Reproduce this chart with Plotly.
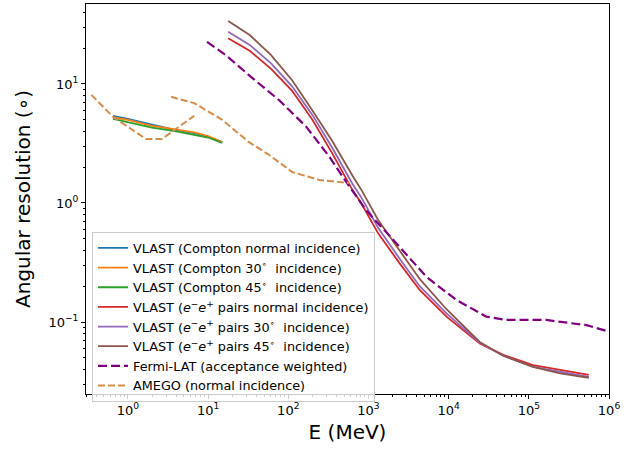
import plotly.graph_objects as go

# --- VLAST Compton-regime angular resolution (MeV, degrees)
compton_E = [0.65, 1.0, 2.0, 4.0, 7.0, 10.0, 15.0]
compton_normal = [5.4, 5.1, 4.55, 4.1, 3.85, 3.6, 3.25]
compton_30 = [5.25, 5.0, 4.45, 4.15, 3.9, 3.65, 3.25]
compton_45 = [5.1, 4.8, 4.3, 4.0, 3.75, 3.55, 3.2]

# --- VLAST pair-production regime
pair_E = [17.8, 33, 61, 111, 200, 355, 630, 810, 1320, 2450, 4350,
          9400, 24400, 48000, 113000, 245000, 560000]
pair_normal = [24.2, 19.0, 13.4, 8.8, 5.0, 2.6, 1.29, 1.0, 0.556, 0.311, 0.186,
               0.111, 0.066, 0.053, 0.0435, 0.0395, 0.0359]
pair_30 = [27.5, 21.3, 14.9, 9.6, 5.5, 2.9, 1.45, 1.12, 0.62, 0.34, 0.2,
           0.118, 0.067, 0.052, 0.042, 0.038, 0.0345]
pair_45 = [33.8, 25.8, 17.5, 10.8, 6.0, 3.3, 1.7, 1.3, 0.72, 0.40, 0.23,
           0.128, 0.068, 0.052, 0.042, 0.037, 0.034]

# --- Fermi-LAT (acceptance weighted)
fermi_E = [9.7, 16.6, 35.7, 77, 166, 325, 525, 933, 2220, 5270, 12500,
           29500, 52000, 165000, 525000, 1000000]
fermi_res = [22.6, 17.5, 11.2, 7.3, 4.4, 2.45, 1.51, 0.87, 0.46, 0.24, 0.153,
             0.111, 0.104, 0.104, 0.094, 0.083]

# --- AMEGO (normal incidence); None separates the Compton and pair branches
amego_E = [0.35, 0.65, 1.68, 2.66, 6.7, None,
           3.45, 6.7, 15, 32, 58, 112, 245, 580]
amego_res = [8.1, 5.3, 3.45, 3.45, 5.4, None,
             7.8, 6.9, 5.0, 3.26, 2.53, 1.82, 1.56, 1.47]

x_tickvals = [1, 10, 100, 1000, 10000, 100000, 1000000]
x_ticktext = ["10<sup>0</sup>", "10<sup>1</sup>", "10<sup>2</sup>", "10<sup>3</sup>",
              "10<sup>4</sup>", "10<sup>5</sup>", "10<sup>6</sup>"]
y_tickvals = [0.1, 1, 10]
y_ticktext = ["10<sup>\u22121</sup>", "10<sup>0</sup>", "10<sup>1</sup>"]

deg = "<sup>\u2218</sup>"
ee = "<i>e</i><sup>\u2212</sup><i>e</i><sup>+</sup>"

fig = go.Figure()

solid = [
    (compton_E, compton_normal, "VLAST (Compton normal incidence)", "#1f77b4"),
    (compton_E, compton_30, f"VLAST (Compton 30{deg}  incidence)", "#ff7f0e"),
    (compton_E, compton_45, f"VLAST (Compton 45{deg}  incidence)", "#2ca02c"),
    (pair_E, pair_normal, f"VLAST ({ee} pairs normal incidence)", "#d62728"),
    (pair_E, pair_30, f"VLAST ({ee} pairs 30{deg}  incidence)", "#9467bd"),
    (pair_E, pair_45, f"VLAST ({ee} pairs 45{deg}  incidence)", "#8c564b"),
]
for xs, ys, name, color in solid:
    fig.add_trace(go.Scatter(x=xs, y=ys, name=name, mode="lines",
                             line=dict(color=color, width=1.8)))

fig.add_trace(go.Scatter(x=fermi_E, y=fermi_res, name="Fermi-LAT (acceptance weighted)",
                         mode="lines", line=dict(color="#800080", width=2.2, dash="9px,4px")))
fig.add_trace(go.Scatter(x=amego_E, y=amego_res, name="AMEGO (normal incidence)",
                         mode="lines", connectgaps=False,
                         line=dict(color="#d98c48", width=2, dash="7px,3px")))

axis_common = dict(
    type="log", showline=True, linecolor="black", linewidth=1, mirror=True,
    ticks="outside", ticklen=4, tickcolor="black", showgrid=False, zeroline=False,
    tickfont=dict(family="DejaVu Sans", size=13, color="black"),
    minor=dict(ticks="outside", ticklen=2.3, tickcolor="black", dtick="D1", showgrid=False),
)

fig.update_layout(
    width=641, height=449,
    margin=dict(l=86, r=32, t=4, b=55),
    paper_bgcolor="white", plot_bgcolor="white",
    font=dict(family="DejaVu Sans", color="black"),
    xaxis=dict(axis_common, range=[-0.523, 6.0], tickmode="array",
               tickvals=x_tickvals, ticktext=x_ticktext,
               title=dict(text="E (MeV)", font=dict(size=20), standoff=8)),
    yaxis=dict(axis_common, range=[-1.605, 1.672], tickmode="array",
               tickvals=y_tickvals, ticktext=y_ticktext,
               title=dict(text="Angular resolution (\u2218)", font=dict(size=20), standoff=12)),
    legend=dict(x=0.0115, y=0.415, xanchor="left", yanchor="top",
                bgcolor="rgba(255,255,255,0.8)", bordercolor="#cccccc", borderwidth=1,
                font=dict(family="DejaVu Sans", size=12.8, color="black")),
    showlegend=True,
)

fig.write_html("out.html")
